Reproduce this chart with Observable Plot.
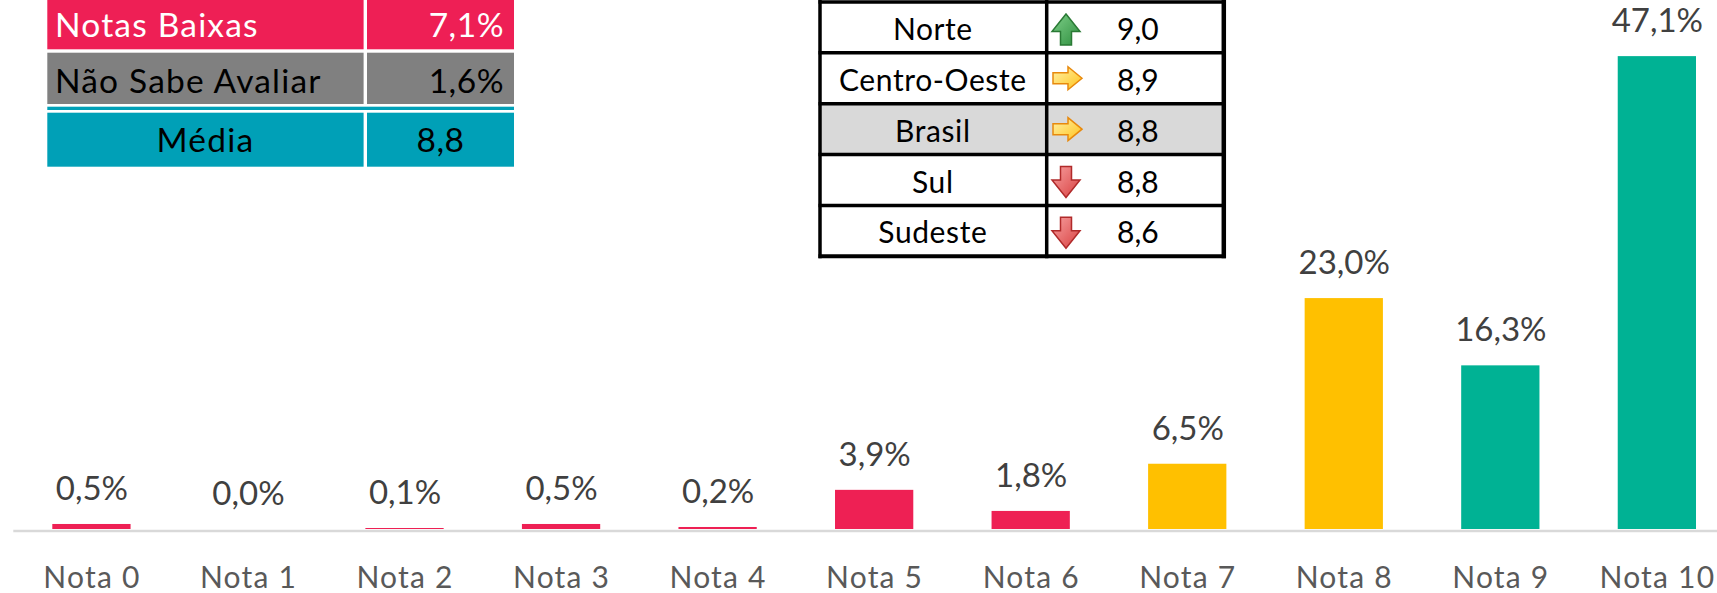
<!DOCTYPE html>
<html>
<head>
<meta charset="utf-8">
<script src="https://cdn.jsdelivr.net/npm/d3@7"></script>
<script src="https://cdn.jsdelivr.net/npm/@observablehq/plot@0.6"></script>
<style>
  html, body { margin: 0; padding: 0; background: #fff; }
  #wrap { position: relative; width: 1717px; height: 593px; overflow: hidden; }
  #wrap svg.overlay { position: absolute; left: 0; top: 0; pointer-events: none; }
  g[aria-label="x-axis tick label"] text { letter-spacing: 1.2px; }
</style>
</head>
<body>
<div id="wrap"></div>
<script>
// ---- chart data ----
const categories = ["Nota 0","Nota 1","Nota 2","Nota 3","Nota 4","Nota 5","Nota 6","Nota 7","Nota 8","Nota 9","Nota 10"];
const values = [0.5, 0.0, 0.1, 0.5, 0.2, 3.9, 1.8, 6.5, 23.0, 16.3, 47.1];
const groups = ["baixa","baixa","baixa","baixa","baixa","baixa","baixa","media","media","alta","alta"];
const groupNames = ["baixa","media","alta"];
const groupColors = ["#EE2054","#FFC000","#00B294"];

// ---- summary table (left) ----
const summaryLabels = ["Notas Baixas", "Não Sabe Avaliar", "Média"];
const summaryValues = ["7,1%", "1,6%", "8,8"];

// ---- regional table (right) ----
const regions = ["Norte", "Centro-Oeste", "Brasil", "Sul", "Sudeste"];
const regionTrend = ["up", "right", "right", "down", "down"];
const regionScores = ["9,0", "8,9", "8,8", "8,8", "8,6"];

const data = categories.map((c, i) => ({cat: c, value: values[i], group: groups[i]}));
const fmt = v => v.toFixed(1).replace(".", ",") + "%";

const W = 1717, H = 593;
const chart = Plot.plot({
  width: W,
  height: H,
  marginLeft: 52.3,
  marginRight: 21,
  marginTop: 0,
  marginBottom: 64,
  style: {fontFamily: "Lato", background: "#fff", color: "#595959"},
  x: {domain: categories, paddingInner: 0.5, paddingOuter: 0, round: false, axis: null, label: null},
  y: {domain: [0, 52.69], axis: null},
  color: {domain: groupNames, range: groupColors},
  marks: [
    Plot.barY(data, {x: "cat", y: "value", fill: "group"}),
    Plot.ruleY([0], {stroke: "#d9d9d9", strokeWidth: 2.5, dy: 1.5, insetLeft: -39, insetRight: -21}),
    Plot.text(data, {x: "cat", y: "value", text: d => fmt(d.value), dy: -35, fontSize: 33, fill: "#404040", lineAnchor: "middle"}),
    Plot.axisX({tickSize: 0, tickPadding: 37, fontSize: 30, fill: "#595959", label: null})
  ]
});
document.getElementById("wrap").appendChild(chart);

// ---- overlay tables ----
const ov = d3.select("#wrap").append("svg")
  .attr("class", "overlay")
  .attr("width", W).attr("height", H)
  .style("font-family", "Lato");

const defs = ov.append("defs");
function grad(id, c1, c2) {
  const g = defs.append("linearGradient").attr("id", id).attr("x1", 0).attr("y1", 0).attr("x2", 1).attr("y2", 1);
  g.append("stop").attr("offset", "0%").attr("stop-color", c1);
  g.append("stop").attr("offset", "100%").attr("stop-color", c2);
}
grad("gUp", "#7fd08a", "#2f8f3f");
grad("gRight", "#fff2a8", "#ffc21a");
grad("gDown", "#f7a0a0", "#d84040");

// Left summary table
const L = {x0: 47.3, xd0: 363.6, xd1: 367, x1: 514};
const rowsL = [
  {y0: -2, y1: 49.3, fill: "#EE1F55", text: "#fff"},
  {y0: 52.7, y1: 104, fill: "#808080", text: "#000"},
  {y0: 112.7, y1: 166.7, fill: "#00A0B7", text: "#000"}
];
const gl = ov.append("g");
rowsL.forEach((r, i) => {
  gl.append("rect").attr("x", L.x0).attr("y", r.y0).attr("width", L.xd0 - L.x0).attr("height", r.y1 - r.y0).attr("fill", r.fill);
  gl.append("rect").attr("x", L.xd1).attr("y", r.y0).attr("width", L.x1 - L.xd1).attr("height", r.y1 - r.y0).attr("fill", r.fill);
  const base = [37.3, 92.7, 151.7][i];
  const center = i === 2;
  gl.append("text")
    .attr("x", center ? (L.x0 + L.xd0) / 2 : 55)
    .attr("y", base)
    .attr("text-anchor", center ? "middle" : "start")
    .attr("font-size", 33.5)
    .attr("letter-spacing", "1.2px")
    .attr("fill", r.text)
    .text(summaryLabels[i]);
  gl.append("text")
    .attr("x", center ? (L.xd1 + L.x1) / 2 : 504)
    .attr("y", base)
    .attr("text-anchor", center ? "middle" : "end")
    .attr("font-size", 33.5)
    .attr("letter-spacing", "0.5px")
    .attr("fill", r.text)
    .text(summaryValues[i]);
});
// double-line separator
gl.append("rect").attr("x", L.x0).attr("y", 106.7).attr("width", L.x1 - L.x0).attr("height", 3.3).attr("fill", "#00A0B7");

// Right regional table
const R = {x0: 820, xd: 1046.7, x1: 1223.8, top: 2, step: 50.85};
const gr = ov.append("g");
regions.forEach((name, i) => {
  const yt = R.top + i * R.step;
  if (name === "Brasil") {
    gr.append("rect").attr("x", R.x0).attr("y", yt).attr("width", R.x1 - R.x0).attr("height", R.step).attr("fill", "#d9d9d9");
  }
  const base = yt + 38;
  gr.append("text").attr("x", (R.x0 + R.xd) / 2 - 0.5).attr("y", base)
    .attr("text-anchor", "middle").attr("font-size", 30).attr("letter-spacing", "0.6px").attr("fill", "#000").text(name);
  gr.append("text").attr("x", 1117).attr("y", base)
    .attr("text-anchor", "start").attr("font-size", 30).attr("fill", "#000").text(regionScores[i]);
  const cx = 1066, cy = yt + R.step / 2 + 2;
  const t = regionTrend[i];
  let path, fill, stroke;
  if (t === "up") {
    path = `M${cx},${cy-15.5} L${cx+14},${cy+2} L${cx+5.5},${cy+2} L${cx+5.5},${cy+15.5} L${cx-5.5},${cy+15.5} L${cx-5.5},${cy+2} L${cx-14},${cy+2} Z`;
    fill = "url(#gUp)"; stroke = "#2a7a35";
  } else if (t === "down") {
    path = `M${cx},${cy+15.5} L${cx+14},${cy-2} L${cx+5.5},${cy-2} L${cx+5.5},${cy-15.5} L${cx-5.5},${cy-15.5} L${cx-5.5},${cy-2} L${cx-14},${cy-2} Z`;
    fill = "url(#gDown)"; stroke = "#b02a2a";
  } else {
    const c = cx + 1, cyy = cy - 2;
    path = `M${c+15},${cyy} L${c+1},${cyy-11.5} L${c+1},${cyy-5.5} L${c-14},${cyy-5.5} L${c-14},${cyy+5.5} L${c+1},${cyy+5.5} L${c+1},${cyy+11.5} Z`;
    fill = "url(#gRight)"; stroke = "#e8890c";
  }
  gr.append("path").attr("d", path).attr("fill", fill).attr("stroke", stroke).attr("stroke-width", 1.5).attr("stroke-linejoin", "miter");
});
// grid lines
for (let i = 0; i <= regions.length; i++) {
  const y = R.top + i * R.step;
  gr.append("line").attr("x1", R.x0 - 1.5).attr("x2", R.x1 + 2).attr("y1", y).attr("y2", y)
    .attr("stroke", "#000").attr("stroke-width", i === regions.length ? 4 : 3.5);
}
const yEnd = R.top + regions.length * R.step;
[[R.x0, 3.5], [R.xd, 3.5], [R.x1, 4.5]].forEach(([x, w]) => {
  gr.append("line").attr("x1", x).attr("x2", x).attr("y1", -2).attr("y2", yEnd + 2)
    .attr("stroke", "#000").attr("stroke-width", w);
});
</script>
</body>
</html>
